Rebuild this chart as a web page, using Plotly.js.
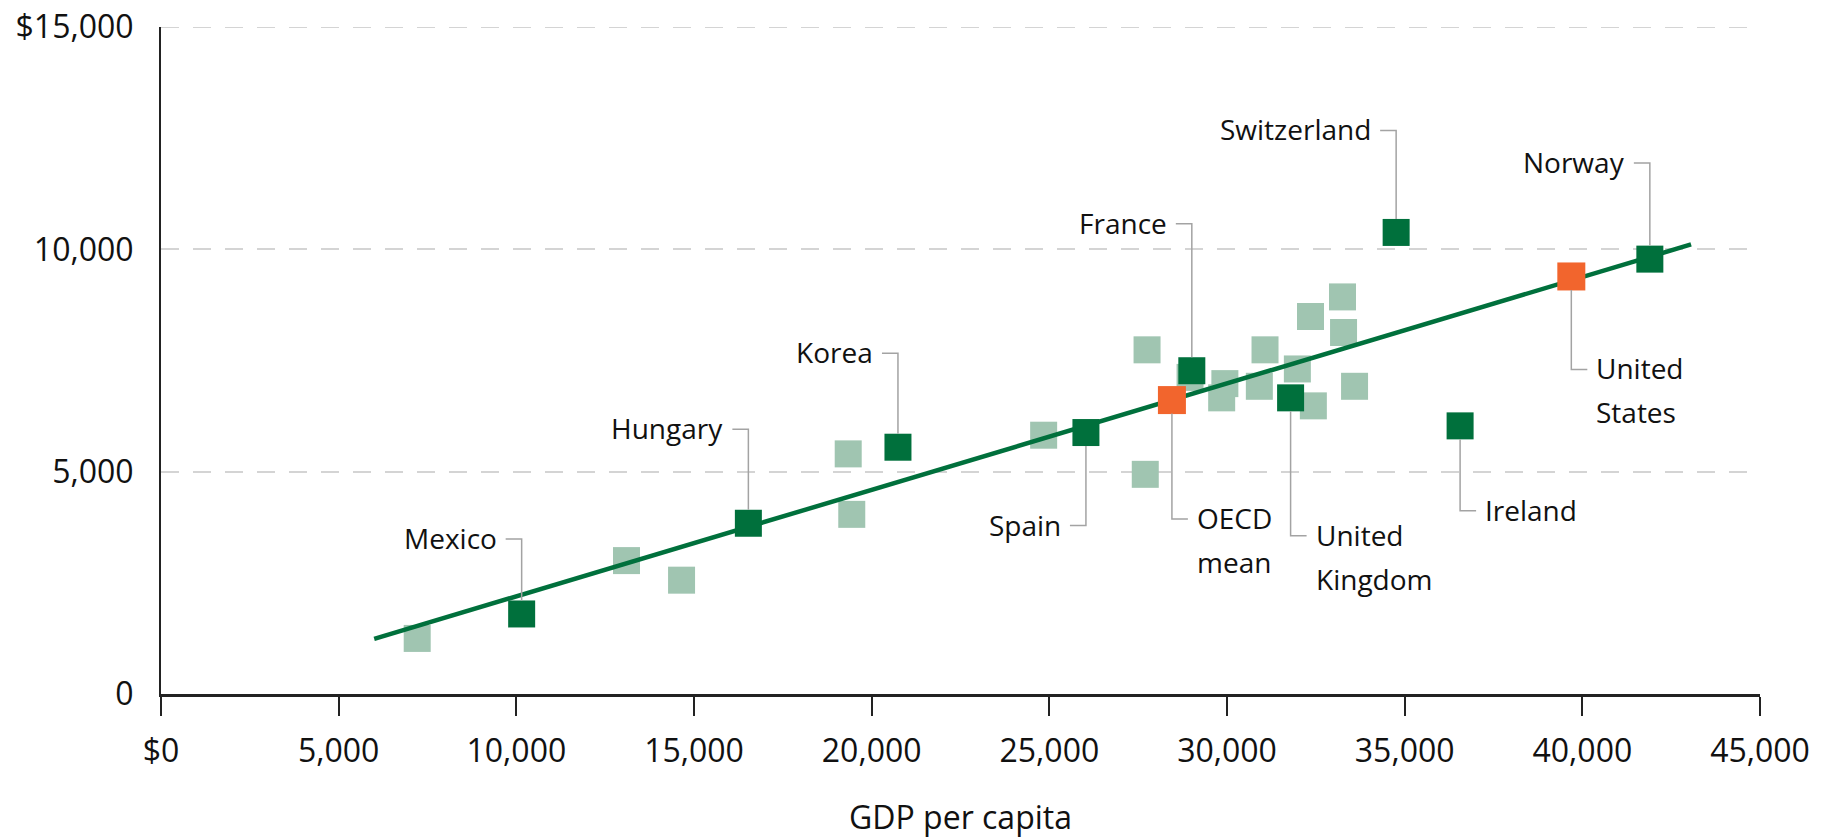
<!DOCTYPE html>
<html>
<head>
<meta charset="utf-8">
<script src="https://cdn.plot.ly/plotly-3.0.1.min.js"></script>
<style>
  html, body { margin: 0; padding: 0; background: #fff; }
</style>
</head>
<body>
<div id="plot"></div>
<script>
// unlabelled countries (light squares)
var otherGdp   = [7210, 13100, 14650, 19340, 19440, 24840, 27750, 27700, 28960, 29940, 29850, 30910, 31070, 31980, 32430, 32350, 33250, 33280, 33590];
var otherSpend = [1250, 3000, 2560, 5400, 4040, 5820, 7740, 4940, 7120, 6980, 6660, 6920, 7740, 7310, 6480, 8490, 8930, 8130, 6920];

// labelled countries (dark squares)
var countries    = ["Mexico", "Hungary", "Korea", "Spain", "France", "United Kingdom", "Switzerland", "Ireland", "Norway"];
var countryGdp   = [10150, 16530, 20740, 26030, 29010, 31790, 34760, 36560, 41900];
var countrySpend = [1800, 3840, 5550, 5880, 7270, 6660, 10380, 6030, 9780];

// highlighted (orange squares)
var highlights     = ["OECD mean", "United States"];
var highlightGdp   = [28450, 39690];
var highlightSpend = [6610, 9390];

// fitted line end points
var trendGdp   = [6000, 43060];
var trendSpend = [1240, 10110];

// axis ticks
var xTickVals  = [0, 5000, 10000, 15000, 20000, 25000, 30000, 35000, 40000, 45000];
var xTickText  = ["$0", "5,000", "10,000", "15,000", "20,000", "25,000", "30,000", "35,000", "40,000", "45,000"];
var yTickVals  = [0, 5000, 10000, 15000];
var yTickText  = ["0", "5,000", "10,000", "$15,000"];

// where each label sits relative to its square (pixels, up is positive)
var labelSpots = {
  "Mexico":         {side: "left",  dy: 75,   lines: ["Mexico"]},
  "Hungary":        {side: "left",  dy: 94,   lines: ["Hungary"]},
  "Korea":          {side: "left",  dy: 94,   lines: ["Korea"]},
  "Spain":          {side: "left",  dy: -93,  lines: ["Spain"]},
  "France":         {side: "left",  dy: 147,  lines: ["France"]},
  "United Kingdom": {side: "right", dy: -138, lines: ["United", "Kingdom"]},
  "Switzerland":    {side: "left",  dy: 102,  lines: ["Switzerland"]},
  "Ireland":        {side: "right", dy: -85,  lines: ["Ireland"]},
  "Norway":         {side: "left",  dy: 96,   lines: ["Norway"]},
  "OECD mean":      {side: "right", dy: -119, lines: ["OECD", "mean"]},
  "United States":  {side: "right", dy: -93,  lines: ["United", "States"]}
};

var darkGreen = "#00703c";
var lightGreen = "#a0c5b1";
var orange = "#f2652d";
var gridGrey = "#d4d4d4";
var half = 13.5;   // half a marker
var arm = 16;      // horizontal leader length
var gap = 7;       // leader to text
var lineStep = 44; // two-line label spacing

var traces = [
  {
    type: "scatter", mode: "markers",
    x: otherGdp, y: otherSpend,
    marker: {symbol: "square", size: 27, color: lightGreen, line: {width: 0}}
  },
  {
    type: "scatter", mode: "lines",
    x: trendGdp, y: trendSpend,
    line: {color: darkGreen, width: 4.5}
  },
  {
    type: "scatter", mode: "markers",
    x: countryGdp, y: countrySpend,
    marker: {symbol: "square", size: 27, color: darkGreen, line: {width: 0}}
  },
  {
    type: "scatter", mode: "markers",
    x: highlightGdp, y: highlightSpend,
    marker: {symbol: "square", size: 28, color: orange, line: {width: 0}}
  }
];

// top gridline sits on the range edge, plotly skips it
var shapes = [{
  type: "line", xref: "paper", yref: "y", layer: "below",
  x0: 0, x1: 1, y0: yTickVals[yTickVals.length - 1], y1: yTickVals[yTickVals.length - 1],
  line: {color: gridGrey, width: 2, dash: "18px,14px"}
}];
var annotations = [];

function addLabel(name, gx, gy) {
  var spot = labelSpots[name];
  var dir = spot.side === "left" ? -1 : 1;
  var start = spot.dy > 0 ? half : -half;
  shapes.push({
    type: "path",
    xref: "x", yref: "y",
    xsizemode: "pixel", ysizemode: "pixel",
    xanchor: gx, yanchor: gy,
    path: "M0," + start + " L0," + spot.dy + " L" + (dir * arm) + "," + spot.dy,
    line: {color: "#a3a3a3", width: 1.5}
  });
  spot.lines.forEach(function(txt, i) {
    annotations.push({
      xref: "x", yref: "y", x: gx, y: gy,
      xshift: dir * (arm + gap), yshift: spot.dy - i * lineStep + 1,
      xanchor: spot.side === "left" ? "right" : "left", yanchor: "middle",
      text: txt, showarrow: false,
      font: {family: "Open Sans", size: 28, color: "#111"}
    });
  });
}

countries.forEach(function(c, i) { addLabel(c, countryGdp[i], countrySpend[i]); });
highlights.forEach(function(c, i) { addLabel(c, highlightGdp[i], highlightSpend[i]); });

var layout = {
  width: 1833,
  height: 838,
  margin: {l: 161, r: 73, t: 27, b: 144},
  paper_bgcolor: "#fff",
  plot_bgcolor: "#fff",
  showlegend: false,
  hovermode: false,
  font: {family: "Open Sans", size: 32, color: "#111"},
  xaxis: {
    range: [0, 45000],
    tickvals: xTickVals,
    ticktext: xTickText,
    ticks: "outside", ticklen: 19, tickwidth: 2, tickcolor: "#222",
    ticklabelstandoff: 8,
    showline: true, linewidth: 3, linecolor: "#222",
    showgrid: false, zeroline: false,
    title: {text: "GDP per capita", standoff: 40, font: {size: 32}}
  },
  yaxis: {
    range: [0, 15000],
    tickvals: yTickVals,
    ticktext: yTickText,
    ticks: "",
    ticklabelstandoff: 19,
    showline: true, linewidth: 2, linecolor: "#222",
    showgrid: true, gridcolor: gridGrey, gridwidth: 2, griddash: "18px,14px",
    zeroline: false
  },
  shapes: shapes,
  annotations: annotations
};

Plotly.newPlot("plot", traces, layout, {displayModeBar: false, staticPlot: true});
</script>
</body>
</html>
